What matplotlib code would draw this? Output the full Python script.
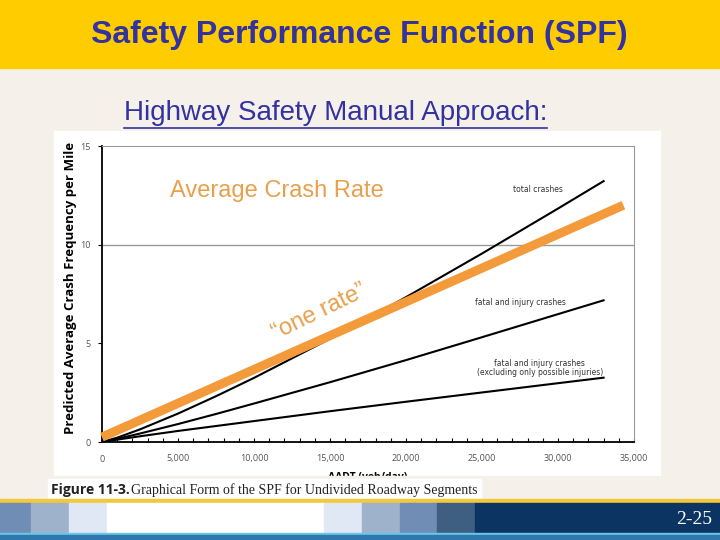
import matplotlib
matplotlib.use("Agg")
import matplotlib.pyplot as plt
from matplotlib.patches import Rectangle

# values (crashes per mile vs AADT)
aadt = [0, 1000, 2500, 5000, 7500, 10000, 15000, 20000, 25000, 30000, 33000]
total_crashes = [0, 0.22, 0.64, 1.44, 2.32, 3.25, 5.23, 7.34, 9.55, 11.83, 13.22]
fatal_injury = [0, 0.16, 0.43, 0.91, 1.42, 1.95, 3.03, 4.15, 5.31, 6.48, 7.18]
fatal_injury_ex = [0, 0.12, 0.29, 0.56, 0.81, 1.06, 1.56, 2.04, 2.51, 2.98, 3.26]

# hand-drawn "one rate" line
rate_aadt = [0, 34300]
rate_val = [0.25, 12.0]

x_ticks = [0, 5000, 10000, 15000, 20000, 25000, 30000, 35000]
x_labels = ["0", "5,000", "10,000", "15,000", "20,000", "25,000", "30,000", "35,000"]
y_ticks = [0, 5, 10, 15]

# bottom bar blocks: (left, right, colour)
bar_blocks = [(0, 31, "#6f8db5"), (31, 69, "#9fb2cb"), (69, 107, "#dfe8f4"),
              (107, 324, "#ffffff"), (324, 362, "#dfe8f4"), (362, 400, "#9fb2cb"),
              (400, 437, "#6f8db5"), (437, 475, "#3f5f82"), (475, 720, "#0b3463")]

beige = "#f5f1ea"
orange = "#f39a3a"
text_orange = "#e8a04c"
blue = "#3232a0"

fig = plt.figure(figsize=(7.2, 5.4), dpi=100)

# slide background
bg = fig.add_axes([0, 0, 1, 1], zorder=0)
bg.set_xlim(0, 720)
bg.set_ylim(540, 0)
bg.axis("off")
bg.add_patch(Rectangle((0, 0), 720, 540, color=beige))
bg.add_patch(Rectangle((0, 0), 720, 68, color="#ffcc00"))
bg.add_patch(Rectangle((54, 131), 606, 345, color="white"))

bg.text(359, 35, "Safety Performance Function (SPF)", ha="center", va="center",
        fontsize=23, fontweight="bold", color=blue, family="Liberation Sans")
sub = bg.text(335.5, 113, "Highway Safety Manual Approach:", ha="center", va="center",
              fontsize=20, color=blue, family="Liberation Sans")

# the chart
ax = fig.add_axes([102 / 720, 98 / 540, 532 / 720, 296 / 540], zorder=2)
ax.patch.set_alpha(0)
ax.plot(aadt, total_crashes, color="black", lw=1.5)
ax.plot(aadt, fatal_injury, color="black", lw=1.5)
ax.plot(aadt, fatal_injury_ex, color="black", lw=1.5)
ax.axhline(10, color="#9a9a9a", lw=1, zorder=0)
ax.plot(rate_aadt, rate_val, color=orange, lw=6.5, solid_capstyle="butt", clip_on=False, zorder=5)

ax.set_xlim(0, 35000)
ax.set_ylim(0, 15)
ax.set_xticks(x_ticks)
ax.set_xticklabels(x_labels)
ax.set_xticks(range(0, 35001, 1000), minor=True)
ax.set_yticks(y_ticks)
ax.tick_params(axis="x", which="both", direction="in", length=3, width=0.8, pad=9,
               labelsize=6.5, labelcolor="#555555")
ax.tick_params(axis="y", direction="out", length=3, width=0.8, pad=5,
               labelsize=6.5, labelcolor="#555555")
for lab in ax.get_xticklabels() + ax.get_yticklabels():
    lab.set_family("Open Sans")
ax.spines["left"].set_linewidth(1.3)
ax.spines["bottom"].set_linewidth(1.3)
ax.spines["top"].set_color("#9a9a9a")
ax.spines["right"].set_color("#9a9a9a")

ax.set_ylabel("Predicted Average Crash Frequency per Mile", fontsize=9.5,
              fontweight="bold", family="Open Sans")
ax.yaxis.set_label_coords(-0.047, 0.52)
ax.set_xlabel("AADT (veh/day)", fontsize=7.5, fontweight="bold", family="Open Sans")
ax.xaxis.set_label_coords(0.5, -0.102)

ax.text(28700, 12.8, "total crashes", ha="center", va="center", fontsize=5.5, color="#333333")
ax.text(27500, 7.05, "fatal and injury crashes", ha="center", va="center", fontsize=5.5,
        color="#333333")
ax.text(28800, 3.75, "fatal and injury crashes\n(excluding only possible injuries)",
        ha="center", va="center", fontsize=5.5, color="#333333", linespacing=1.1)

ax.text(11500, 12.7, "Average Crash Rate", ha="center", va="center", fontsize=17,
        color=text_orange, family="Liberation Sans")
ax.text(14300, 6.6, "\u201cone rate\u201d", ha="center", va="center", fontsize=17,
        color=text_orange, family="Liberation Sans", rotation=26)

# footer (drawn above the chart so the axis label gets cut like the original)
ov = fig.add_axes([0, 0, 1, 1], zorder=5)
ov.set_xlim(0, 720)
ov.set_ylim(540, 0)
ov.axis("off")
ov.patch.set_alpha(0)
ov.add_patch(Rectangle((0, 476), 720, 24, color=beige))
ov.add_patch(Rectangle((48, 479), 433, 21, color="white"))
ov.add_patch(Rectangle((0, 499), 720, 4, color="#f3c93a"))
for left, right, col in bar_blocks:
    ov.add_patch(Rectangle((left, 503), right - left, 30, color=col))
ov.add_patch(Rectangle((0, 533), 720, 2, color="#6cc6e6"))
ov.add_patch(Rectangle((0, 535), 720, 5, color="#2f78ad"))

ov.text(51, 490, "Figure 11-3.", ha="left", va="center", fontsize=10, fontweight="bold",
        family="Open Sans", color="#222222")
ov.text(131, 490, "Graphical Form of the SPF for Undivided Roadway Segments", ha="left",
        va="center", fontsize=10, family="Liberation Serif", color="#222222")
ov.text(712, 519, "2-25", ha="right", va="center", fontsize=14, color="white",
        family="Liberation Serif")

# underline for the subtitle
fig.canvas.draw()
bb = sub.get_window_extent().transformed(bg.transData.inverted())
bg.plot([bb.x0, bb.x1], [128, 128], color=blue, lw=1.2)

fig.savefig("out.png", dpi=100)
